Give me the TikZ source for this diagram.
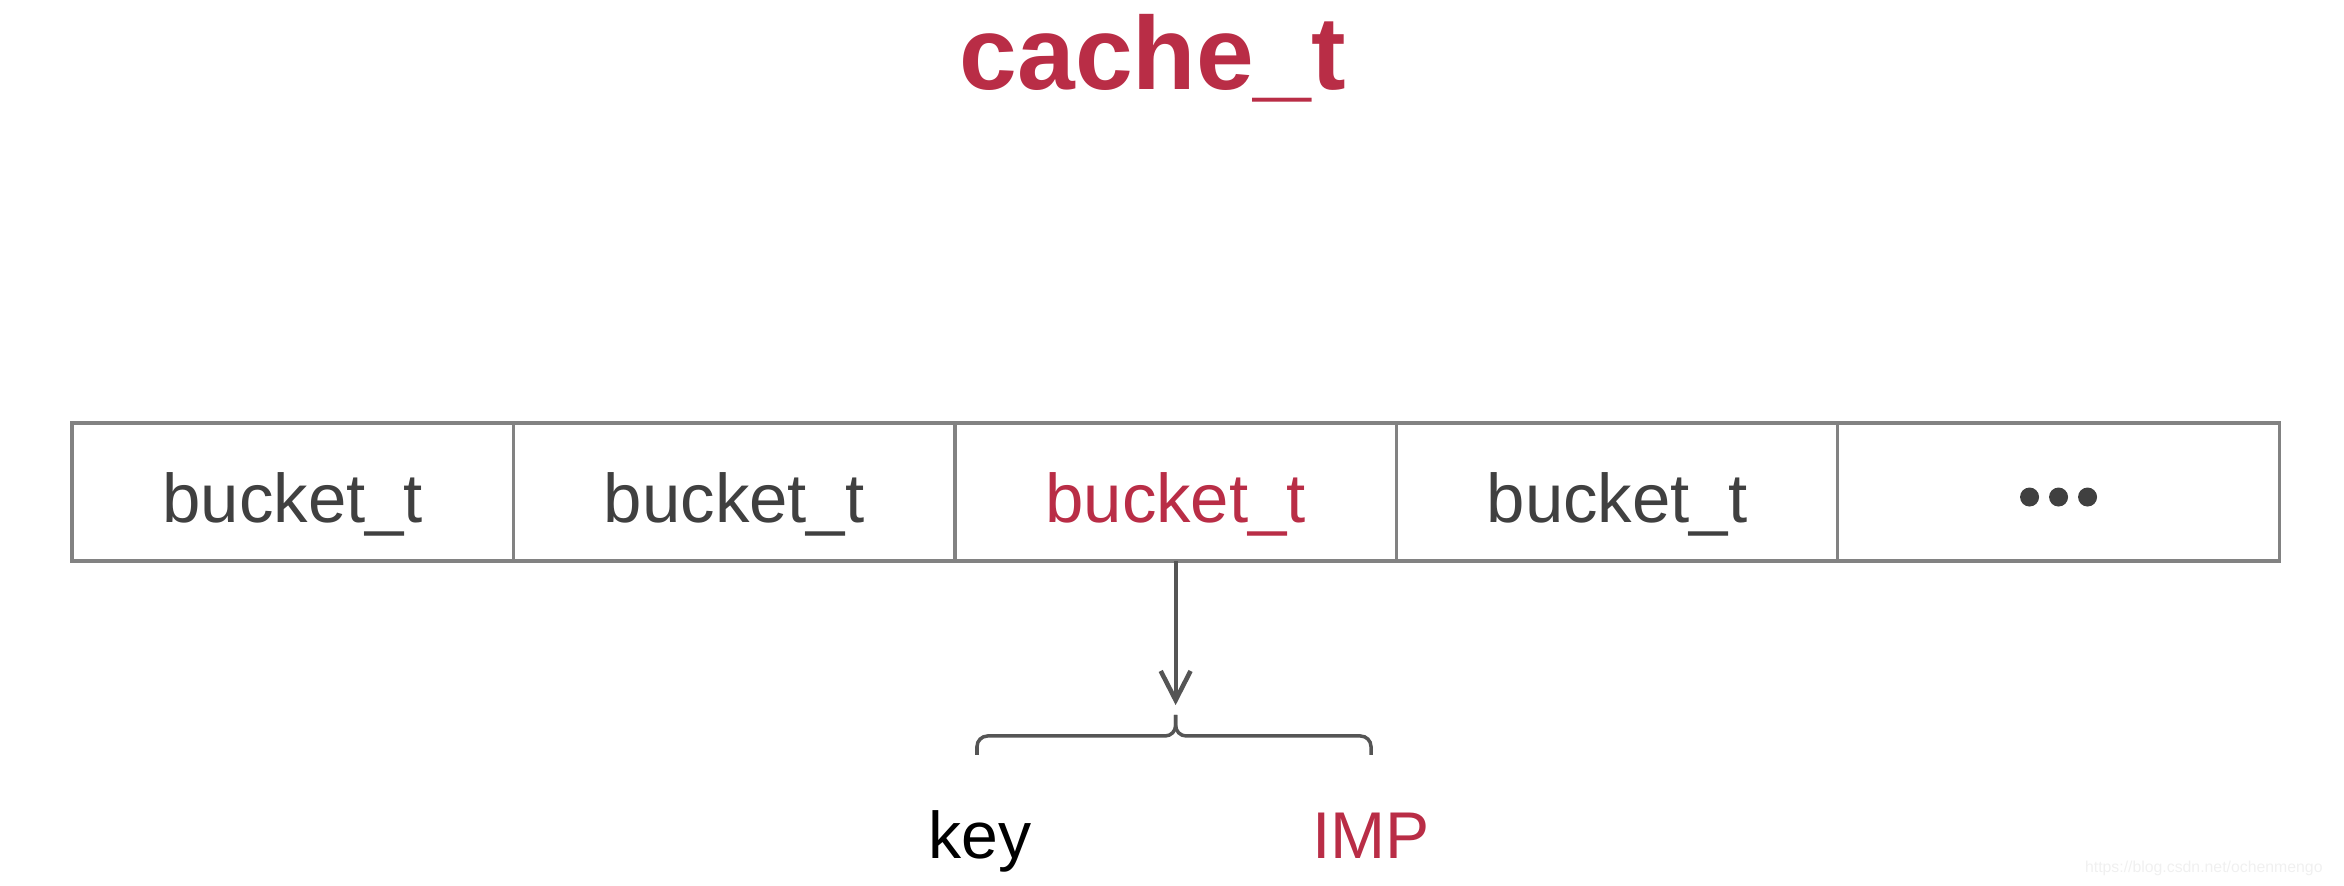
\documentclass[tikz,border=0pt]{standalone}
\usepackage{fontspec}
\setmainfont{Liberation Sans}
\usepackage{tikz}
\usetikzlibrary{positioning,arrows.meta}
\definecolor{cachered}{RGB}{185,45,70}
\definecolor{textgray}{RGB}{64,64,64}
\definecolor{cellgray}{RGB}{130,130,130}
\definecolor{arrgray}{RGB}{85,85,85}

\begin{document}
\begin{tikzpicture}[x=0.01cm,y=-0.01cm,
    cell/.style={draw=cellgray, line width=0.9pt, minimum width=4.412cm, minimum height=1.38cm,
        inner sep=0pt, outer sep=0pt, text=textgray, font=\fontsize{19.6}{22}\selectfont,
        text height=17.1pt, text depth=0pt},
    lbl/.style={anchor=base, font=\fontsize{18.8}{22}\selectfont}]
    \useasboundingbox (0,0) rectangle (2344,886);

    % Title
    \node[anchor=base, text=cachered, font=\fontsize{29.5}{33}\selectfont\bfseries] (title) at (1153,90) {cache\_t};

    % Buckets
    \node[cell, anchor=north west] (b1) at (72,423) {bucket\_t};
    \node[cell, right=0pt of b1] (b2) {bucket\_t};
    \node[cell, right=0pt of b2, text=cachered] (b3) {bucket\_t};
    \node[cell, right=0pt of b3] (b4) {bucket\_t};
    \node[cell, right=0pt of b4] (b5) {};
    \fill[textgray] (b5.center) ++(-29,5) circle (2.7pt) ++(29,0) circle (2.7pt) ++(29,0) circle (2.7pt);

    % Arrow and brace
    \coordinate (brl) at (977,755);
    \coordinate (brr) at (1371,755);
    \coordinate (brmid) at (b3.south |- 0,736);
    \coordinate (brtip) at (b3.south |- 0,715);
    \draw[arrgray, line width=1.1pt, -{Straight Barb[length=8.3pt,width=8.5pt,line width=1.3pt]}, shorten >=2.8pt] (b3.south) -- (brtip);
    \draw[arrgray, line width=1pt, rounded corners=3pt] (brl) -- (brl |- brmid) -- (brmid) -- (brtip);
    \draw[arrgray, line width=1pt, rounded corners=3pt] (brr) -- (brr |- brmid) -- (brmid) -- (brtip);

    % Labels
    \node[lbl, text=black] (key) at (980,859) {key};
    \node[lbl, text=cachered] (imp) at (1371,859) {IMP};

    % Watermark
    \node[anchor=base east, text=gray!12, font=\fontsize{4.5}{5}\selectfont] (wm) at (2335,873) {https://blog.csdn.net/ochenmengo};
\end{tikzpicture}
\end{document}
